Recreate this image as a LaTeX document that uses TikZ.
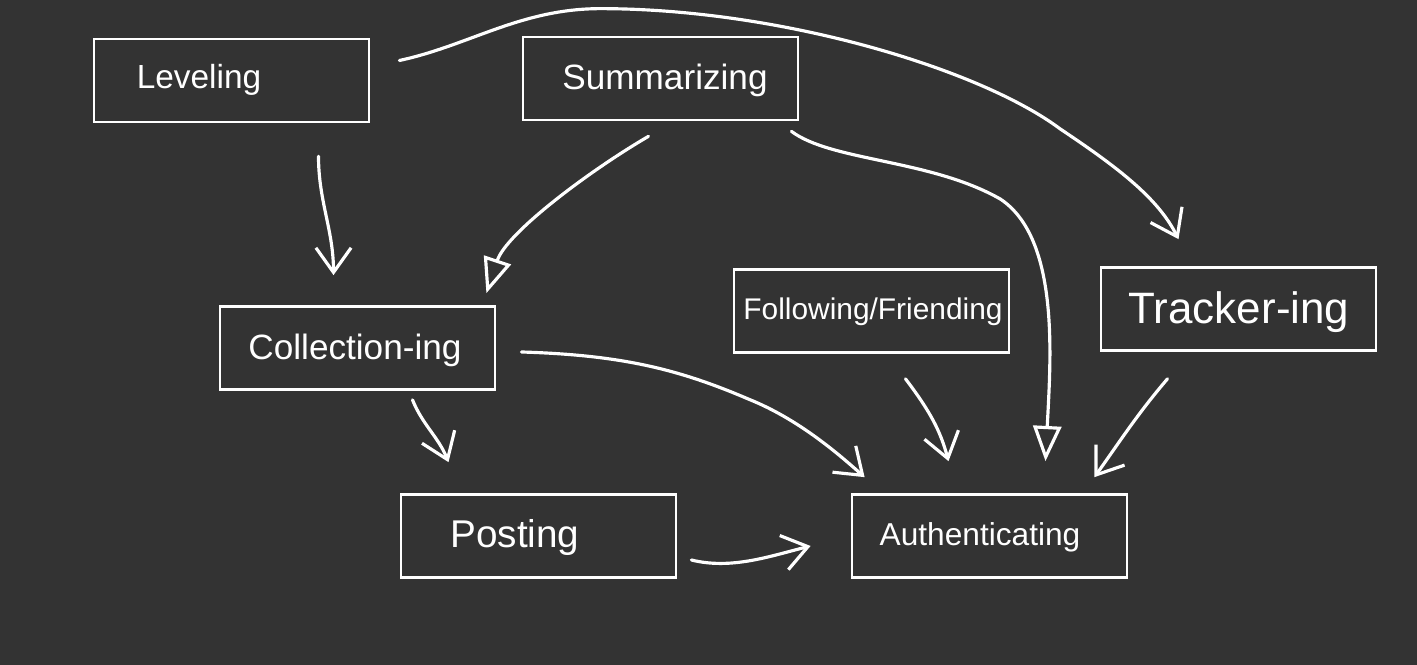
\documentclass[tikz,border=0pt]{standalone}
\usepackage{fontspec}
\setmainfont{Liberation Sans}
\usetikzlibrary{arrows.meta}
\definecolor{bg}{RGB}{51,51,51}
\newcommand{\fsz}[1]{\fontsize{#1}{#1}\selectfont}
\begin{document}
\begin{tikzpicture}[x=0.01cm,y=-0.01cm,
  box/.style={draw=white,line width=0.75pt,minimum width=2.75cm,minimum height=0.83cm,inner sep=0pt},
  txt/.style={text=white,inner sep=0pt},
  conn/.style={draw=white,line width=0.9pt,line cap=round,-{Straight Barb[length=7pt,width=10pt,line width=0.9pt]}},
  tconn/.style={draw=white,line width=0.9pt,line cap=round,-{Triangle[open,length=10pt,width=8pt,line width=0.9pt]}}]
\fill[bg] (0,0) rectangle (1417,665);
\useasboundingbox (0,0) rectangle (1417,665);

\node[box] (lev) at (231.5,80.5) {};
\node[txt,font=\fsz{9.5}] (levt) at (199,80) {Leveling};
\node[box] (sum) at (660.5,78.5) {};
\node[txt,font=\fsz{10}] (sumt) at (665,80) {Summarizing};
\node[box] (col) at (357.5,348) {};
\node[txt,font=\fsz{10}] (colt) at (355,350) {Collection-ing};
\node[box] (fol) at (871.5,311) {};
\node[txt,font=\fsz{8.5}] (folt) at (873,312) {Following/Friending};
\node[box] (trk) at (1238.5,309) {};
\node[txt,font=\fsz{12.5}] (trkt) at (1239,312) {Tracker-ing};
\node[box] (pos) at (538.5,536) {};
\node[txt,font=\fsz{11}] (post) at (515,538) {Posting};
\node[box] (aut) at (989.5,536) {};
\node[txt,font=\fsz{9}] (autt) at (980,537) {Authenticating};

% Leveling -> Collection-ing
\draw[conn] ([shift={(87,33)}]lev.south) .. controls +(0,45) and +(0,-45) .. ([shift={(-24,-30)}]col.north);
% Leveling -> Tracker-ing
\draw[conn] ([shift={(29,-20)}]lev.east) .. controls +(70,-15) and +(-80,0) .. ([shift={(-60,-27)}]sum.north)
  .. controls +(180,0) and +(-80,-60) .. ([shift={(-178,-137)}]trk.north)
  .. controls +(60,40) and +(-20,-40) .. ([shift={(-60,-27)}]trk.north);
% Summarizing -> Collection-ing
\draw[tconn] ([shift={(-12,15)}]sum.south) .. controls +(-60,35) and +(20,-60) .. ([shift={(-10,-12)}]col.north east);
% Summarizing -> Authenticating
\draw[tconn] ([shift={(-8,10)}]sum.south east) .. controls +(40,30) and +(-70,-40) .. ([shift={(11,-294)}]aut.north)
  .. controls +(60,40) and +(5,-100) .. ([shift={(56,-32)}]aut.north);
% Collection-ing -> Authenticating
\draw[conn] ([shift={(25,4)}]col.east) .. controls +(100,3) and +(-70,-30) .. ([shift={(-102,-94)}]aut.north west)
  .. controls +(50,20) and +(-26,-23) .. ([shift={(14,-16)}]aut.north west);
% Collection-ing -> Posting
\draw[conn] ([shift={(55,9)}]col.south) .. controls +(10,25) and +(-10,-25) .. ([shift={(-90,-31)}]pos.north);
% Following -> Authenticating
\draw[conn] ([shift={(34,25)}]fol.south) .. controls +(25,33) and +(-8,-30) .. ([shift={(-41,-32)}]aut.north);
% Tracker-ing -> Authenticating
\draw[conn] ([shift={(-71,27)}]trk.south) .. controls +(-30,35) and +(25,-35) .. ([shift={(-34,-16)}]aut.north east);
% Posting -> Authenticating
\draw[conn] ([shift={(14,24)}]pos.east) .. controls +(40,10) and +(-40,10) .. ([shift={(-40,10)}]aut.west);
\end{tikzpicture}
\end{document}
